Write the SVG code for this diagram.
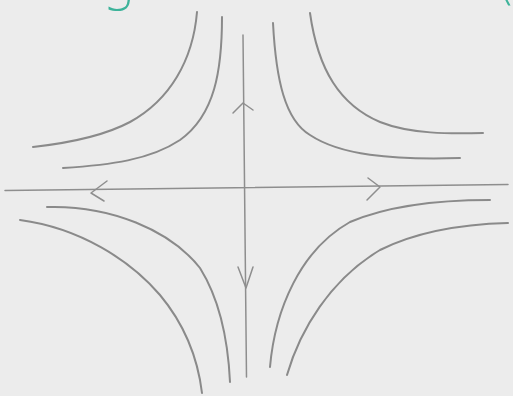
<svg xmlns="http://www.w3.org/2000/svg" width="513" height="396" viewBox="0 0 513 396">
<style>
.bg{fill:#ececec}
.traj{fill:none;stroke:#8a8a8a;stroke-width:2;stroke-linecap:round}
.axis{fill:none;stroke:#8e8e8e;stroke-width:1.5;stroke-linecap:round;stroke-linejoin:round}
.ink{font-family:"DejaVu Sans","Liberation Sans",sans-serif;font-weight:200;font-size:54px;fill:#3db39a}
</style>
<rect class="bg" x="0" y="0" width="513" height="396"/>
<g id="heading">
<text class="ink" x="102" y="-1">g</text>
<text class="ink" x="495" y="-1">(</text>
</g>
<g id="axes">
<path class="axis" d="M5,190.5 L508,184.5"/>
<path class="axis" d="M243,35 L246.5,377"/>
<path class="axis" d="M107,181 L91,193 L104,201"/>
<path class="axis" d="M368,178 L380,187 L367,200"/>
<path class="axis" d="M233,113 L243,103 L253,110"/>
<path class="axis" d="M238,267 L246,288 L253,267"/>
</g>
<g id="trajectories">
<path class="traj" d="M197,12 C193,60 170,100 130,122 C100,138 60,144 33,147"/>
<path class="traj" d="M222,17 C222,70 215,115 180,140 C150,160 110,165 63,168"/>
<path class="traj" d="M273,23 C276,80 285,120 310,135 C340,155 390,160 460,158"/>
<path class="traj" d="M310,13 C318,70 340,105 380,122 C410,134 450,134 483,133"/>
<path class="traj" d="M47,207 C110,205 170,230 200,268 C220,300 228,340 230,382"/>
<path class="traj" d="M20,220 C80,228 130,260 160,295 C185,325 198,360 202,393"/>
<path class="traj" d="M270,367 C275,310 300,250 350,222 C390,205 440,200 490,200"/>
<path class="traj" d="M287,375 C300,330 330,280 380,250 C420,230 470,224 508,223"/>
</g>
</svg>
